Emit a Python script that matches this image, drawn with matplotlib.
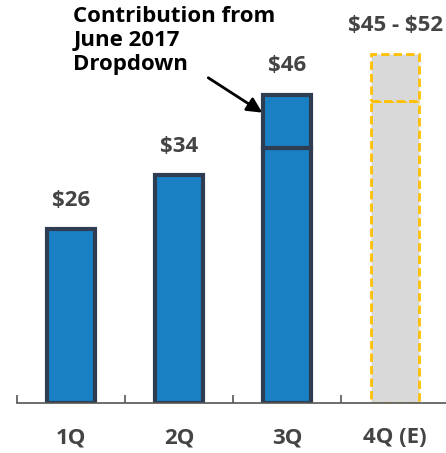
import matplotlib.pyplot as plt
import numpy as np

# quarterly values ($)
quarters = ["1Q", "2Q", "3Q", "4Q (E)"]
base = [26, 34, 38, 45]          # reported / low end
extra = [0, 0, 8, 7]             # June 2017 dropdown / range up to high end
labels = [r"\$26", r"\$34", r"\$46", r"\$45 - \$52"]

blue = "#1a80c4"
edge = "#2f3d52"
grey_txt = "#444444"

plt.rcParams["font.family"] = ["Open Sans", "DejaVu Sans"]

fig = plt.figure(figsize=(4.46, 4.53), dpi=100)
ax = fig.add_axes([17 / 446, 50 / 453, 429 / 446, 403 / 453])

x = np.arange(len(quarters))
w = 0.44

for i in range(3):
    ax.bar(x[i], base[i], w, color=blue, edgecolor=edge, linewidth=3, zorder=2)
    if extra[i]:
        ax.bar(x[i], extra[i], w, bottom=base[i], color=blue, edgecolor=edge,
               linewidth=3, zorder=2)

# estimate: dashed outline in yellow
ax.bar(x[3], base[3], w, color="#d9d9d9", edgecolor="#ffc000", linewidth=2,
       linestyle=(0, (3, 1.5)), zorder=2)
ax.bar(x[3], extra[3], w, bottom=base[3], color="#d9d9d9", edgecolor="#ffc000",
       linewidth=2, linestyle=(0, (3, 1.5)), zorder=2)

for i in range(len(quarters)):
    top = base[i] + extra[i]
    ax.annotate(labels[i], (x[i], top), xytext=(0, 13), textcoords="offset points",
                ha="center", va="bottom", fontsize=16, fontweight="bold",
                color=grey_txt)

ax.text(0.02, 59.2, "Contribution from\nJune 2017\nDropdown", fontsize=16,
        fontweight="bold", color="black", ha="left", va="top", linespacing=1.2)
ax.annotate("", xy=(1.77, 43.3), xytext=(1.27, 48.5),
            arrowprops=dict(arrowstyle="-|>,head_length=0.9,head_width=0.45",
                            color="black", lw=2, shrinkA=0, shrinkB=0))

ax.set_xlim(-0.5, 3.47)
ax.set_ylim(0, 60.1)
for s in ["top", "right", "left"]:
    ax.spines[s].set_visible(False)
ax.spines["bottom"].set_color("#555555")
ax.spines["bottom"].set_linewidth(1.2)
ax.set_yticks([])

ax.set_xticks(np.arange(-0.5, 3, 1))
ax.set_xticklabels([])
ax.tick_params(axis="x", direction="in", length=6, width=1.2, color="#555555")
for i, q in enumerate(quarters):
    ax.text(x[i], -3.6, q, ha="center", va="top", fontsize=16, fontweight="bold",
            color=grey_txt, clip_on=False)

fig.savefig("out.png", dpi=100)
